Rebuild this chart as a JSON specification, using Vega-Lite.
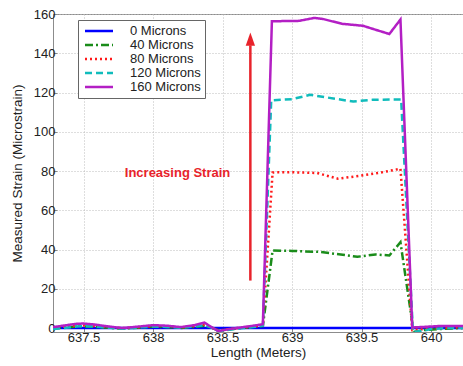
{
  "$schema": "https://vega.github.io/schema/vega-lite/v6.json",
  "autosize": {"type": "none"},
  "padding": {"left": 53, "top": 14, "right": 0, "bottom": 34},
  "width": 410,
  "height": 318,
  "config": {
    "font": "Liberation Sans",
    "view": {"stroke": "#8c8c8c", "strokeWidth": 1},
    "axis": {
      "labelFont": "Liberation Sans", "labelFontSize": 13, "labelColor": "#222",
      "titleFont": "Liberation Sans", "titleFontSize": 13.5, "titleColor": "#222", "titleFontWeight": "normal",
      "grid": true, "gridColor": "#bdbdbd", "gridDash": [1, 2], "gridWidth": 1,
      "domain": false, "ticks": true, "tickSize": -4, "tickColor": "#888"
    }
  },
  "datasets": {
    "lines": [
      {"x": 637.28, "y": 0, "s": "0 Microns"},
      {"x": 638.0, "y": 0, "s": "0 Microns"},
      {"x": 638.8, "y": 0, "s": "0 Microns"},
      {"x": 639.5, "y": 0, "s": "0 Microns"},
      {"x": 640.23, "y": 0, "s": "0 Microns"},

      {"x": 637.28, "y": -0.3, "s": "40 Microns"},
      {"x": 637.35, "y": 0.2, "s": "40 Microns"},
      {"x": 637.45, "y": 0.8, "s": "40 Microns"},
      {"x": 637.5, "y": 0.9, "s": "40 Microns"},
      {"x": 637.58, "y": 0.6, "s": "40 Microns"},
      {"x": 637.68, "y": 0.1, "s": "40 Microns"},
      {"x": 637.78, "y": -0.3, "s": "40 Microns"},
      {"x": 637.9, "y": 0.2, "s": "40 Microns"},
      {"x": 638.0, "y": 0.7, "s": "40 Microns"},
      {"x": 638.1, "y": 0.5, "s": "40 Microns"},
      {"x": 638.2, "y": 0.1, "s": "40 Microns"},
      {"x": 638.3, "y": 0.6, "s": "40 Microns"},
      {"x": 638.37, "y": 1.2, "s": "40 Microns"},
      {"x": 638.42, "y": 0.2, "s": "40 Microns"},
      {"x": 638.47, "y": -1.2, "s": "40 Microns"},
      {"x": 638.55, "y": -0.6, "s": "40 Microns"},
      {"x": 638.65, "y": 0.1, "s": "40 Microns"},
      {"x": 638.75, "y": 0.8, "s": "40 Microns"},
      {"x": 638.79, "y": 1.0, "s": "40 Microns"},
      {"x": 638.86, "y": 39.5, "s": "40 Microns"},
      {"x": 639.0, "y": 39.3, "s": "40 Microns"},
      {"x": 639.2, "y": 38.8, "s": "40 Microns"},
      {"x": 639.35, "y": 37.5, "s": "40 Microns"},
      {"x": 639.47, "y": 36.3, "s": "40 Microns"},
      {"x": 639.6, "y": 37.5, "s": "40 Microns"},
      {"x": 639.7, "y": 37.0, "s": "40 Microns"},
      {"x": 639.78, "y": 43.7, "s": "40 Microns"},
      {"x": 639.875, "y": -2, "s": "40 Microns"},
      {"x": 639.95, "y": -1, "s": "40 Microns"},
      {"x": 640.05, "y": -0.5, "s": "40 Microns"},
      {"x": 640.23, "y": 0, "s": "40 Microns"},

      {"x": 637.28, "y": 0.2, "s": "80 Microns"},
      {"x": 637.35, "y": 0.6, "s": "80 Microns"},
      {"x": 637.45, "y": 1.2, "s": "80 Microns"},
      {"x": 637.5, "y": 1.3, "s": "80 Microns"},
      {"x": 637.58, "y": 1.0, "s": "80 Microns"},
      {"x": 637.68, "y": 0.4, "s": "80 Microns"},
      {"x": 637.78, "y": 0, "s": "80 Microns"},
      {"x": 637.9, "y": 0.5, "s": "80 Microns"},
      {"x": 638.0, "y": 1.0, "s": "80 Microns"},
      {"x": 638.1, "y": 0.8, "s": "80 Microns"},
      {"x": 638.2, "y": 0.3, "s": "80 Microns"},
      {"x": 638.3, "y": 1.0, "s": "80 Microns"},
      {"x": 638.37, "y": 1.8, "s": "80 Microns"},
      {"x": 638.42, "y": 0.4, "s": "80 Microns"},
      {"x": 638.47, "y": -1.3, "s": "80 Microns"},
      {"x": 638.55, "y": -0.5, "s": "80 Microns"},
      {"x": 638.65, "y": 0.3, "s": "80 Microns"},
      {"x": 638.75, "y": 1.0, "s": "80 Microns"},
      {"x": 638.79, "y": 1.3, "s": "80 Microns"},
      {"x": 638.86, "y": 79.3, "s": "80 Microns"},
      {"x": 639.0, "y": 79.4, "s": "80 Microns"},
      {"x": 639.18, "y": 79.0, "s": "80 Microns"},
      {"x": 639.33, "y": 76.1, "s": "80 Microns"},
      {"x": 639.49, "y": 77.6, "s": "80 Microns"},
      {"x": 639.63, "y": 79.1, "s": "80 Microns"},
      {"x": 639.78, "y": 81.2, "s": "80 Microns"},
      {"x": 639.865, "y": -1, "s": "80 Microns"},
      {"x": 639.95, "y": -0.5, "s": "80 Microns"},
      {"x": 640.23, "y": 0.5, "s": "80 Microns"},

      {"x": 637.28, "y": -0.5, "s": "120 Microns"},
      {"x": 637.35, "y": 0, "s": "120 Microns"},
      {"x": 637.45, "y": 0.8, "s": "120 Microns"},
      {"x": 637.5, "y": 1.0, "s": "120 Microns"},
      {"x": 637.58, "y": 0.8, "s": "120 Microns"},
      {"x": 637.68, "y": 0.2, "s": "120 Microns"},
      {"x": 637.78, "y": -0.3, "s": "120 Microns"},
      {"x": 637.9, "y": 0.3, "s": "120 Microns"},
      {"x": 638.0, "y": 0.8, "s": "120 Microns"},
      {"x": 638.1, "y": 0.6, "s": "120 Microns"},
      {"x": 638.2, "y": 0.2, "s": "120 Microns"},
      {"x": 638.3, "y": 0.8, "s": "120 Microns"},
      {"x": 638.37, "y": 1.5, "s": "120 Microns"},
      {"x": 638.42, "y": 0.3, "s": "120 Microns"},
      {"x": 638.47, "y": -1.5, "s": "120 Microns"},
      {"x": 638.55, "y": -0.8, "s": "120 Microns"},
      {"x": 638.65, "y": 0, "s": "120 Microns"},
      {"x": 638.75, "y": 0.8, "s": "120 Microns"},
      {"x": 638.79, "y": 1.2, "s": "120 Microns"},
      {"x": 638.85, "y": 116, "s": "120 Microns"},
      {"x": 639.0, "y": 116.6, "s": "120 Microns"},
      {"x": 639.13, "y": 118.8, "s": "120 Microns"},
      {"x": 639.25, "y": 117.5, "s": "120 Microns"},
      {"x": 639.44, "y": 115.4, "s": "120 Microns"},
      {"x": 639.58, "y": 116.3, "s": "120 Microns"},
      {"x": 639.785, "y": 116.5, "s": "120 Microns"},
      {"x": 639.87, "y": -2, "s": "120 Microns"},
      {"x": 639.93, "y": -1.5, "s": "120 Microns"},
      {"x": 640.0, "y": -0.5, "s": "120 Microns"},
      {"x": 640.1, "y": 0, "s": "120 Microns"},
      {"x": 640.23, "y": 0, "s": "120 Microns"},

      {"x": 637.28, "y": 0.5, "s": "160 Microns"},
      {"x": 637.35, "y": 1.2, "s": "160 Microns"},
      {"x": 637.45, "y": 2.2, "s": "160 Microns"},
      {"x": 637.5, "y": 2.3, "s": "160 Microns"},
      {"x": 637.58, "y": 1.8, "s": "160 Microns"},
      {"x": 637.68, "y": 0.8, "s": "160 Microns"},
      {"x": 637.78, "y": 0, "s": "160 Microns"},
      {"x": 637.9, "y": 0.8, "s": "160 Microns"},
      {"x": 638.0, "y": 1.5, "s": "160 Microns"},
      {"x": 638.1, "y": 1.2, "s": "160 Microns"},
      {"x": 638.2, "y": 0.5, "s": "160 Microns"},
      {"x": 638.3, "y": 1.5, "s": "160 Microns"},
      {"x": 638.37, "y": 2.8, "s": "160 Microns"},
      {"x": 638.42, "y": 0.5, "s": "160 Microns"},
      {"x": 638.47, "y": -1.5, "s": "160 Microns"},
      {"x": 638.55, "y": -0.5, "s": "160 Microns"},
      {"x": 638.65, "y": 0.5, "s": "160 Microns"},
      {"x": 638.75, "y": 1.5, "s": "160 Microns"},
      {"x": 638.79, "y": 2, "s": "160 Microns"},
      {"x": 638.855, "y": 156.3, "s": "160 Microns"},
      {"x": 639.05, "y": 156.5, "s": "160 Microns"},
      {"x": 639.16, "y": 158, "s": "160 Microns"},
      {"x": 639.22, "y": 157.5, "s": "160 Microns"},
      {"x": 639.36, "y": 155, "s": "160 Microns"},
      {"x": 639.51, "y": 154, "s": "160 Microns"},
      {"x": 639.7, "y": 149.8, "s": "160 Microns"},
      {"x": 639.78, "y": 157.2, "s": "160 Microns"},
      {"x": 639.865, "y": 0.3, "s": "160 Microns"},
      {"x": 639.95, "y": 0.6, "s": "160 Microns"},
      {"x": 640.05, "y": 1, "s": "160 Microns"},
      {"x": 640.23, "y": 1, "s": "160 Microns"}
    ],
    "arrow": [
      {"x": 638.70, "y": 24.2},
      {"x": 638.70, "y": 144}
    ],
    "head": [{"x": 638.70, "y": 147.2}],
    "label": [{"x": 638.176, "y": 79.1, "t": "Increasing Strain"}]
  },
  "encoding": {
    "x": {
      "field": "x", "type": "quantitative",
      "scale": {"domain": [637.28, 640.23], "nice": false, "zero": false},
      "axis": {"title": "Length (Meters)", "values": [637.5, 638, 638.5, 639, 639.5, 640], "format": ".1~f", "labelPadding": 3, "titlePadding": 1}
    },
    "y": {
      "field": "y", "type": "quantitative",
      "scale": {"domain": [-2, 160], "nice": false, "zero": false},
      "axis": {"title": "Measured Strain (Microstrain)", "values": [0, 20, 40, 60, 80, 100, 120, 140, 160], "labelPadding": 2, "titlePadding": 9}
    }
  },
  "layer": [
    {
      "data": {"name": "lines"},
      "mark": {"type": "line", "strokeWidth": 2.5, "clip": true},
      "encoding": {
        "color": {
          "field": "s", "type": "nominal",
          "scale": {
            "domain": ["0 Microns", "40 Microns", "80 Microns", "120 Microns", "160 Microns"],
            "range": ["#0000ff", "#1a8c1a", "#ff1a1a", "#10bcbc", "#b31fc4"]
          },
          "legend": {
            "title": null, "orient": "none", "legendX": 25, "legendY": 6,
            "symbolType": "M-4,0L4,0", "symbolSize": 49, "symbolStrokeWidth": 2.5,
            "symbolOffset": 10.5, "clipHeight": 14,
            "labelFontSize": 13, "labelColor": "#222", "labelFont": "Liberation Sans",
            "rowPadding": 0, "padding": 4, "strokeColor": "#666", "fillColor": "#ffffff",
            "labelOffset": 24.5
          }
        },
        "strokeDash": {
          "field": "s", "type": "nominal",
          "scale": {
            "domain": ["0 Microns", "40 Microns", "80 Microns", "120 Microns", "160 Microns"],
            "range": [[1, 0], [8, 3, 2, 3], [2, 3], [7, 4], [1, 0]]
          },
          "legend": null
        },
        "order": {"field": "x", "type": "quantitative"}
      }
    },
    {
      "data": {"name": "arrow"},
      "mark": {"type": "line", "color": "#e8232b", "strokeWidth": 2.5},
      "encoding": {}
    },
    {
      "data": {"name": "head"},
      "mark": {"type": "point", "shape": "M0,-1L0.7,1L-0.7,1Z", "size": 177, "filled": true, "color": "#e8232b", "opacity": 1},
      "encoding": {}
    },
    {
      "data": {"name": "label"},
      "mark": {"type": "text", "color": "#e8232b", "fontWeight": "bold", "fontSize": 13, "font": "Liberation Sans"},
      "encoding": {"text": {"field": "t"}}
    }
  ]
}
